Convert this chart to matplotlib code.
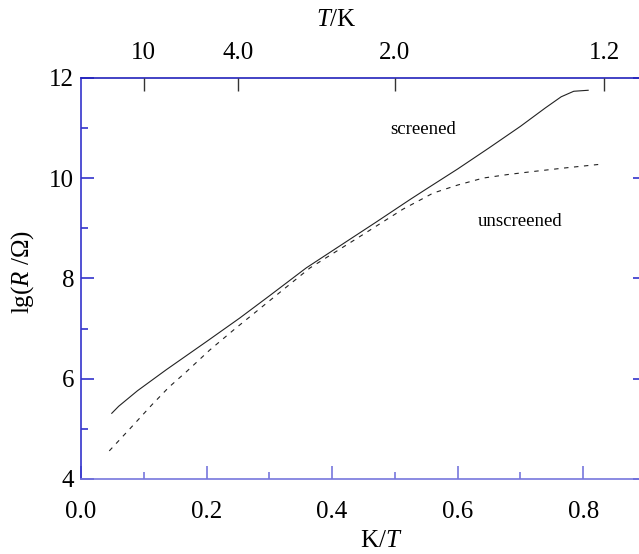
import numpy as np
import matplotlib
matplotlib.use("Agg")
import matplotlib.pyplot as plt
from matplotlib.ticker import MultipleLocator, FixedLocator, NullLocator

plt.rcParams["font.family"] = ["Liberation Serif", "DejaVu Serif"]
plt.rcParams["mathtext.fontset"] = "custom"
plt.rcParams["mathtext.rm"] = "Liberation Serif"
plt.rcParams["mathtext.it"] = "Liberation Serif:italic"

# screened sample (solid)
screened_x = [0.049, 0.06, 0.09, 0.136, 0.2, 0.253, 0.3, 0.359, 0.42, 0.47,
              0.524, 0.55, 0.6, 0.65, 0.7, 0.74, 0.765, 0.785, 0.808]
screened_y = [5.31, 5.45, 5.76, 6.18, 6.74, 7.21, 7.65, 8.21, 8.71, 9.12,
              9.57, 9.78, 10.18, 10.60, 11.03, 11.40, 11.62, 11.73, 11.75]

# unscreened sample (dashed)
unscreened_x = [0.045, 0.08, 0.113, 0.14, 0.168, 0.205, 0.243, 0.3, 0.365,
                0.44, 0.513, 0.561, 0.60, 0.641, 0.68, 0.72, 0.77, 0.824]
unscreened_y = [4.56, 5.03, 5.48, 5.83, 6.14, 6.57, 6.97, 7.55, 8.21,
                8.80, 9.38, 9.70, 9.86, 10.0, 10.07, 10.13, 10.20, 10.27]

top_T = [10, 4.0, 2.0, 1.2]
top_labels = ["10", "4.0", "2.0", "1.2"]

LEFT_C = "#3434cc"
BOTTOM_C = "#7777dd"
TOP_C = "#2222bb"
RIGHT_C = "#6a6ad8"

fig = plt.figure(figsize=(6.39, 5.54), dpi=100)
ax = fig.add_axes([0.1268, 0.1354, 0.884, 0.7243])

ax.plot(screened_x, screened_y, color="#222222", lw=0.8)
ax.plot(unscreened_x, unscreened_y, color="#222222", lw=0.8, dashes=(4, 5))

ax.set_xlim(0, 0.9)
ax.set_ylim(4, 12)

ax.xaxis.set_major_locator(MultipleLocator(0.2))
ax.xaxis.set_minor_locator(MultipleLocator(0.1))
ax.yaxis.set_major_locator(MultipleLocator(2))
ax.yaxis.set_minor_locator(MultipleLocator(1))
ax.xaxis.set_major_formatter(plt.FuncFormatter(lambda v, p: f"{v:.1f}"))
ax.yaxis.set_major_formatter(plt.FuncFormatter(lambda v, p: f"{v:.0f}"))

ax.spines["left"].set_color(LEFT_C)
ax.spines["bottom"].set_color(BOTTOM_C)
ax.spines["top"].set_color(TOP_C)
ax.spines["right"].set_color(RIGHT_C)
for s in ax.spines.values():
    s.set_linewidth(1.2)

ax.tick_params(axis="x", which="both", direction="in", colors=BOTTOM_C,
               labelcolor="black", labelsize=18, pad=16, top=False)
ax.tick_params(axis="x", which="major", length=9.5, width=1.2)
ax.tick_params(axis="x", which="minor", length=5, width=1.2)
ax.tick_params(axis="y", which="both", direction="in", colors=LEFT_C,
               labelcolor="black", labelsize=18, pad=5, right=True)
ax.tick_params(axis="y", which="major", length=9.5, width=1.2)
ax.tick_params(axis="y", which="minor", length=5, width=1.2)

# top axis in temperature
top = ax.twiny()
top.set_xlim(ax.get_xlim())
top.xaxis.set_major_locator(FixedLocator([1.0 / t for t in top_T]))
top.xaxis.set_minor_locator(NullLocator())
top.set_xticklabels(top_labels)
top.tick_params(axis="x", direction="in", length=9.5, width=1.0, colors="#333333",
                labelcolor="black", labelsize=18, pad=10)
for s in top.spines.values():
    s.set_visible(False)

ax.text(0.492, 10.87, "screened", fontsize=13.5)
ax.text(0.632, 9.05, "unscreened", fontsize=13.5)

fig.text(0.526, 0.964, "$T$/K", fontsize=18, ha="center", va="center")
fig.text(0.596, 0.0235, "K/$T$", fontsize=18, ha="center", va="center")
fig.text(0.036, 0.509, "lg($R$ /Ω)", fontsize=18, ha="center", va="center",
         rotation=90)

fig.savefig("out.png", dpi=100)
